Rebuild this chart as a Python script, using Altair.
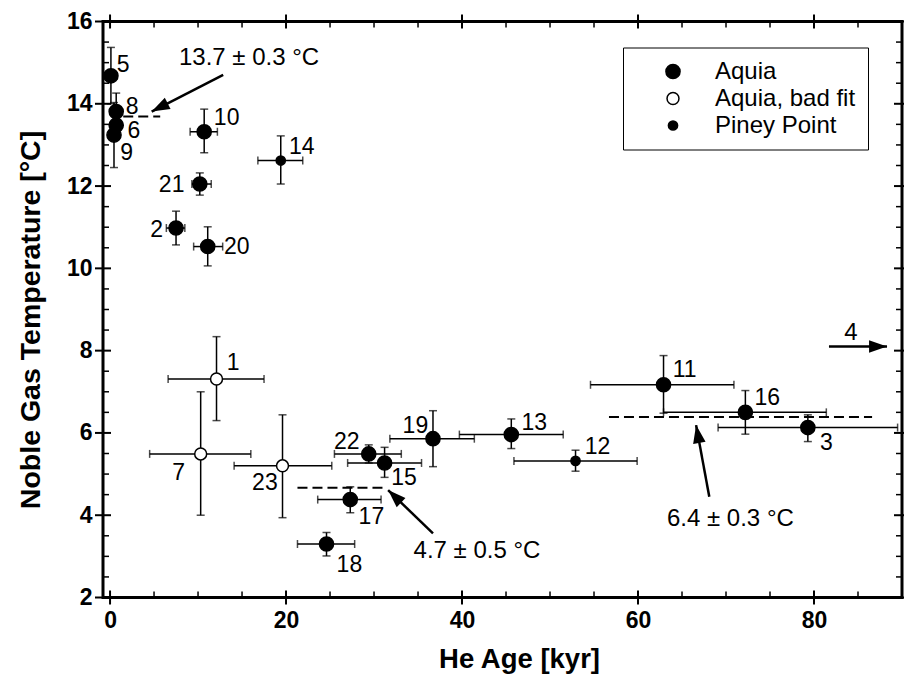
import math
import altair as alt
import pandas as pd

# ---------------- data ----------------
ids = ["5", "8", "6", "9", "10", "14", "21", "2", "20", "1", "7", "23",
       "22", "15", "17", "18", "19", "13", "12", "11", "16", "3"]
groups = ["Aquia", "Aquia", "Aquia", "Aquia", "Aquia", "Piney Point", "Aquia", "Aquia", "Aquia",
          "Aquia, bad fit", "Aquia, bad fit", "Aquia, bad fit",
          "Aquia", "Aquia", "Aquia", "Aquia", "Aquia", "Aquia", "Piney Point", "Aquia", "Aquia", "Aquia"]
age = [0.1, 0.7, 0.7, 0.45, 10.7, 19.4, 10.2, 7.5, 11.1, 12.1, 10.3, 19.6,
       29.4, 31.2, 27.3, 24.6, 36.7, 45.6, 52.9, 62.9, 72.2, 79.3]
age_lo = [-0.6, 0.2, 0.2, -0.05, 9.1, 16.8, 9.3, 6.4, 9.5, 6.6, 4.5, 14.1,
          25.5, 27.0, 23.6, 21.3, 31.8, 39.7, 45.9, 54.6, 62.9, 69.1]
age_hi = [0.8, 1.2, 1.2, 0.95, 12.2, 21.9, 11.5, 8.5, 12.8, 17.5, 16.0, 25.2,
          33.1, 35.4, 30.8, 27.8, 41.4, 51.5, 59.9, 70.9, 81.4, 89.5]
temp = [14.68, 13.81, 13.48, 13.24, 13.32, 12.62, 12.05, 10.98, 10.53, 7.31, 5.49, 5.20,
        5.49, 5.27, 4.38, 3.30, 5.86, 5.96, 5.32, 7.17, 6.50, 6.13]
temp_lo = [14.0, 13.36, 13.18, 12.45, 12.81, 12.05, 11.78, 10.57, 10.06, 6.30, 4.00, 3.94,
           5.27, 4.92, 4.06, 3.01, 5.18, 5.62, 5.07, 6.48, 5.97, 5.79]
temp_hi = [15.37, 14.26, 13.78, 14.03, 13.87, 13.22, 12.32, 11.39, 11.01, 8.34, 7.00, 6.44,
           5.71, 5.65, 4.69, 3.58, 6.54, 6.34, 5.58, 7.88, 7.03, 6.44]
label_x = [1.5, 2.5, 2.7, 1.9, 13.25, 21.8, 7.0, 5.3, 14.4, 14.0, 7.8, 17.6,
           26.9, 33.4, 29.7, 27.2, 34.7, 48.2, 55.4, 65.3, 74.7, 81.4]
label_y = [14.94, 13.92, 13.34, 12.80, 13.65, 12.96, 12.03, 10.93, 10.53, 7.69, 5.02, 4.78,
           5.79, 4.90, 3.96, 2.79, 6.17, 6.23, 5.66, 7.53, 6.84, 5.75]

group_order = ["Aquia", "Aquia, bad fit", "Piney Point"]

# mean temperature lines
mean_t = [13.69, 4.67, 6.39]
mean_x1 = [1.5, 21.3, 56.7]
mean_x2 = [5.7, 31.4, 86.6]

# annotation texts
note_text = ["13.7 ± 0.3 °C", "4.7 ± 0.5 °C", "6.4 ± 0.3 °C", "4"]
note_x = [15.8, 41.7, 70.5, 84.2]
note_y = [15.11, 3.13, 3.92, 8.42]

# arrows (tail -> tip)
arr_x1 = [12.86, 36.7, 68.1, 81.7]
arr_y1 = [14.70, 3.56, 4.45, 8.10]
arr_x2 = [4.73, 31.6, 66.6, 88.3]
arr_y2 = [13.81, 4.61, 6.19, 8.10]

# ticks
major_x = [0, 20, 40, 60, 80]
minor_x = [5, 10, 15, 25, 30, 35, 45, 50, 55, 65, 70, 75, 85]
major_y = [2, 4, 6, 8, 10, 12, 14, 16]
minor_y = [2.5, 3, 3.5, 4.5, 5, 5.5, 6.5, 7, 7.5, 8.5, 9, 9.5,
           10.5, 11, 11.5, 12.5, 13, 13.5, 14.5, 15, 15.5]

# ---------------- layout ----------------
W, H = 799, 576
XDOM = [-0.8, 90]
YDOM = [2, 16]
FONT = "Liberation Sans"

xs = alt.Scale(domain=XDOM, nice=False, zero=False)
ys = alt.Scale(domain=YDOM, nice=False, zero=False)

XAX = alt.Axis(title="He Age [kyr]", values=major_x, ticks=False, domain=False,
               grid=False, labelPadding=12, labelFontSize=23, labelFont=FONT,
               labelFontWeight="bold", labelColor="black",
               titleFont=FONT, titleFontSize=27.5, titleFontWeight="bold",
               titleColor="black", titleX=416, titleY=62,
               titleBaseline="middle", titleAlign="center")
YAX = alt.Axis(title="Noble Gas Temperature [°C]", values=major_y, ticks=False,
               domain=False, grid=False, labelPadding=11, labelFontSize=23,
               labelFont=FONT, labelFontWeight="bold", labelColor="black",
               titleFont=FONT, titleFontSize=28.5, titleFontWeight="bold",
               titleColor="black", titleX=-73, titleY=298,
               titleAngle=270, titleBaseline="middle", titleAlign="center")


def X(field):
    return alt.X(field, scale=xs, axis=XAX)


def Y(field):
    return alt.Y(field, scale=ys, axis=YAX)


df = pd.DataFrame(dict(id=ids, group=groups, age=age, age_lo=age_lo, age_hi=age_hi,
                       temp=temp, temp_lo=temp_lo, temp_hi=temp_hi, lx=label_x, ly=label_y))

sx = W / (XDOM[1] - XDOM[0])
sy = H / (YDOM[1] - YDOM[0])
angles = []
for a, b, c, d in zip(arr_x1, arr_y1, arr_x2, arr_y2):
    dx = (c - a) * sx
    dy = -(d - b) * sy
    angles.append(math.degrees(math.atan2(dx, -dy)) % 360)
arr = pd.DataFrame(dict(x1=arr_x1, y1=arr_y1, x2=arr_x2, y2=arr_y2, ang=angles))
means = pd.DataFrame(dict(t=mean_t, x1=mean_x1, x2=mean_x2))
notes = pd.DataFrame(dict(text=note_text, x=note_x, y=note_y))

base = alt.Chart(df)

xerr = base.mark_rule(color="black", strokeWidth=1.5).encode(
    x=X("age_lo:Q"), x2="age_hi:Q", y=Y("temp:Q"))
xcap_lo = base.mark_tick(orient="vertical", color="black", size=8, thickness=1.5).encode(
    x=X("age_lo:Q"), y=Y("temp:Q"))
xcap_hi = base.mark_tick(orient="vertical", color="black", size=8, thickness=1.5).encode(
    x=X("age_hi:Q"), y=Y("temp:Q"))
yerr = base.mark_rule(color="black", strokeWidth=1.5).encode(
    x=X("age:Q"), y=Y("temp_lo:Q"), y2="temp_hi:Q")
ycap_lo = base.mark_tick(orient="horizontal", color="black", size=8, thickness=1.5).encode(
    x=X("age:Q"), y=Y("temp_lo:Q"))
ycap_hi = base.mark_tick(orient="horizontal", color="black", size=8, thickness=1.5).encode(
    x=X("age:Q"), y=Y("temp_hi:Q"))

legend = alt.Legend(title=None, orient="none", legendX=520, legendY=26,
                    strokeColor="black", padding=12, fillColor="white",
                    labelFont=FONT, labelFontSize=24, labelColor="black",
                    symbolStrokeColor="black", symbolStrokeWidth=1.5,
                    symbolOffset=26, labelOffset=30, rowPadding=3, symbolType="circle")

points = base.mark_point(filled=True, shape="circle", stroke="black", strokeWidth=1.5,
                         opacity=1).encode(
    x=X("age:Q"), y=Y("temp:Q"),
    color=alt.Color("group:N", scale=alt.Scale(domain=group_order,
                                               range=["black", "white", "black"]),
                    legend=legend),
    size=alt.Size("group:N", scale=alt.Scale(domain=group_order, range=[200, 85, 50]),
                  legend=legend),
)

labels = base.mark_text(font=FONT, fontSize=23, color="black", align="center",
                        baseline="middle").encode(
    x=X("lx:Q"), y=Y("ly:Q"), text="id:N")

mean_lines = alt.Chart(means).mark_rule(color="black", strokeWidth=2,
                                        strokeDash=[10, 5]).encode(
    x=X("x1:Q"), x2="x2:Q", y=Y("t:Q"))

arrow_lines = alt.Chart(arr).mark_rule(color="black", strokeWidth=2.5).encode(
    x=X("x1:Q"), x2="x2:Q", y=Y("y1:Q"), y2="y2:Q")
arrow_heads = alt.Chart(arr).mark_point(filled=True, color="black", opacity=1,
                                        shape="M0,0L-0.7,2L0.7,2Z", size=324).encode(
    x=X("x2:Q"), y=Y("y2:Q"), angle=alt.Angle("ang:Q", scale=None))

note_marks = alt.Chart(notes).mark_text(font=FONT, fontSize=24, color="black",
                                        align="center", baseline="middle").encode(
    x=X("x:Q"), y=Y("y:Q"), text="text:N")


# tick marks on all four sides
def xticks(vals, out_len, in_len, width):
    d = pd.DataFrame(dict(v=vals))
    bot = alt.Chart(d).mark_rule(color="black", strokeWidth=width).encode(
        x=X("v:Q"), y=alt.value(H + out_len), y2=alt.value(H - in_len))
    top = alt.Chart(d).mark_rule(color="black", strokeWidth=width).encode(
        x=X("v:Q"), y=alt.value(-out_len), y2=alt.value(in_len))
    return [bot, top]


def yticks(vals, out_len, in_len, width):
    d = pd.DataFrame(dict(v=vals))
    left = alt.Chart(d).mark_rule(color="black", strokeWidth=width).encode(
        y=Y("v:Q"), x=alt.value(-out_len), x2=alt.value(in_len))
    right = alt.Chart(d).mark_rule(color="black", strokeWidth=width).encode(
        y=Y("v:Q"), x=alt.value(W - in_len), x2=alt.value(W + min(out_len, 2)))
    return [left, right]


tick_layers = (xticks(major_x, 7, 7, 2) + xticks(minor_x, 0, 6, 1.5)
               + yticks(major_y, 8, 8, 2) + yticks(minor_y, 0, 6, 1.5))

chart = alt.layer(
    *tick_layers, mean_lines, xerr, xcap_lo, xcap_hi, yerr, ycap_lo, ycap_hi,
    points, arrow_lines, arrow_heads, labels, note_marks,
).resolve_scale(x="shared", y="shared").properties(
    width=W, height=H,
    autosize=alt.AutoSizeParams(type="none"),
    padding={"left": 103, "top": 21.5, "right": 3, "bottom": 82.5},
).configure(background="white").configure_view(stroke="black", strokeWidth=3)

chart.save("out.html", embed_options={"renderer": "svg", "actions": False})
